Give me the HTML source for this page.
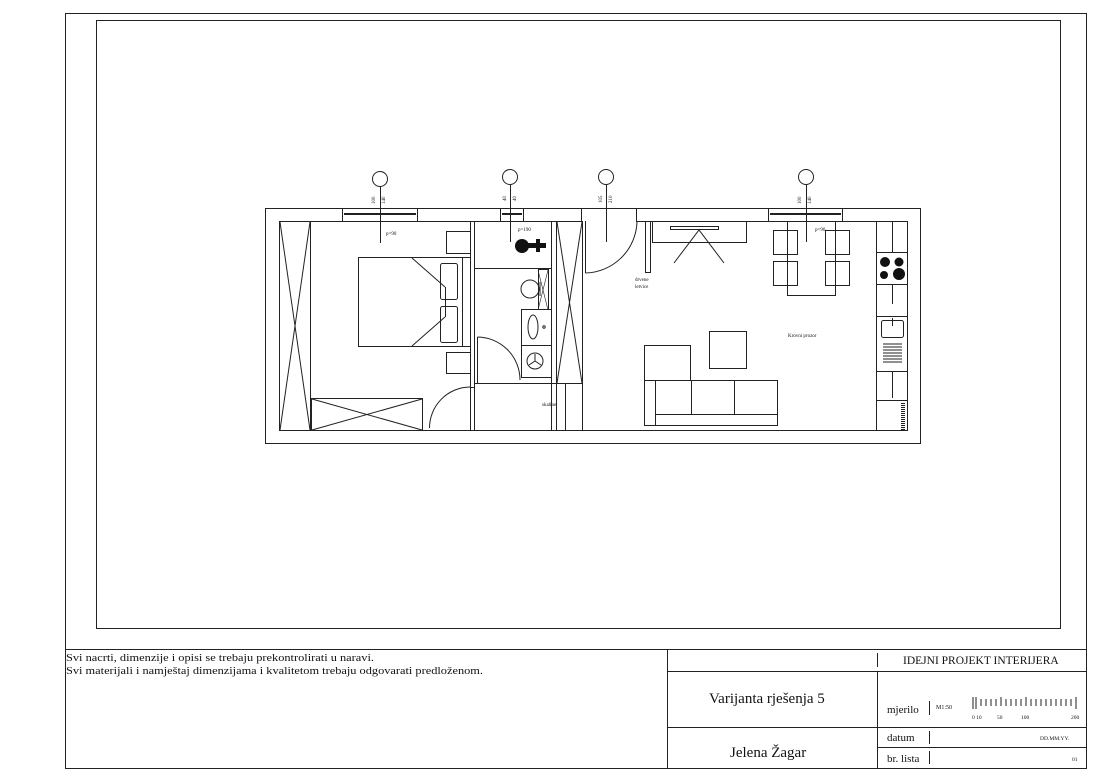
<!DOCTYPE html>
<html><head><meta charset="utf-8"><style>
html,body{margin:0;padding:0;background:#fff;}
svg{display:block;}
text{font-family:"Liberation Serif",serif;fill:#111;}
</style></head><body>
<svg width="1100" height="777" viewBox="0 0 1100 777" xmlns="http://www.w3.org/2000/svg">
<g fill="none" stroke="#222" stroke-width="1">
<rect x="65.5" y="13.5" width="1021" height="755"/>
<rect x="96.5" y="20.5" width="964" height="608"/>
<line x1="65" y1="649.5" x2="1086" y2="649.5"/>
<line x1="667.5" y1="649" x2="667.5" y2="768"/>
<line x1="667" y1="671.5" x2="1086" y2="671.5"/>
<line x1="667" y1="727.5" x2="1086" y2="727.5"/>
<line x1="877.5" y1="671" x2="877.5" y2="768"/>
<line x1="877" y1="747.5" x2="1086" y2="747.5"/>
<line x1="877.5" y1="653" x2="877.5" y2="667"/>
<line x1="929.5" y1="701" x2="929.5" y2="715"/>
<line x1="929.5" y1="731" x2="929.5" y2="744"/>
<line x1="929.5" y1="751" x2="929.5" y2="764"/>
<path d="M973 697v12M976 697v12M981 699v7M986 699v7M991 699v7M996 699v7M1001 697v9M1006 699v7M1011 699v7M1016 699v7M1021 699v7M1026 697v9M1031 699v7M1036 699v7M1041 699v7M1046 699v7M1051 699v7M1056 699v7M1061 699v7M1066 699v7M1071 699v7M1076 697v12"/>

<rect x="265.5" y="208.5" width="655" height="235"/>
<rect x="279.5" y="221.5" width="628" height="209"/>
<rect x="342.5" y="208.5" width="75" height="13"/><line x1="344" y1="214" x2="416" y2="214" stroke-width="2"/>
<rect x="500.5" y="208.5" width="23" height="13"/><line x1="502" y1="214" x2="522" y2="214" stroke-width="2"/>
<rect x="768.5" y="208.5" width="74" height="13"/><line x1="770" y1="214" x2="841" y2="214" stroke-width="2"/>
<rect x="582" y="219" width="54" height="5" stroke="none" fill="#fff"/>
<line x1="581.5" y1="208" x2="581.5" y2="222"/><line x1="636.5" y1="208" x2="636.5" y2="222"/>
<circle cx="380" cy="179" r="7.5"/><line x1="380.5" y1="186" x2="380.5" y2="243"/>
<circle cx="510" cy="177" r="7.5"/><line x1="510.5" y1="184" x2="510.5" y2="242"/>
<circle cx="606" cy="177" r="7.5"/><line x1="606.5" y1="184" x2="606.5" y2="242"/>
<circle cx="806" cy="177" r="7.5"/><line x1="806.5" y1="184" x2="806.5" y2="242"/>
<rect x="279.5" y="221.5" width="31" height="209"/>
<line x1="280" y1="222" x2="310" y2="430"/><line x1="310" y1="222" x2="280" y2="430"/>
<line x1="470.5" y1="222" x2="470.5" y2="430"/><line x1="474.5" y1="222" x2="474.5" y2="430"/>
<rect x="446.5" y="231.5" width="24" height="22"/>
<rect x="446.5" y="352.5" width="24" height="21"/>
<rect x="358.5" y="257.5" width="112" height="89"/>
<line x1="412" y1="258" x2="445" y2="287"/><line x1="412" y1="346" x2="445" y2="317"/>
<line x1="445.5" y1="287" x2="445.5" y2="317"/>
<rect x="440.5" y="263.5" width="17" height="36" rx="2"/>
<rect x="440.5" y="306.5" width="17" height="36" rx="2"/>
<line x1="462.5" y1="258" x2="462.5" y2="347"/>
<rect x="311.5" y="398.5" width="111" height="32"/>
<line x1="312" y1="399" x2="422" y2="430"/><line x1="422" y1="399" x2="312" y2="430"/>
<path d="M429.5 428 A41 41 0 0 1 470 387"/><line x1="470" y1="387.5" x2="474" y2="387.5"/>
<line x1="475" y1="268.5" x2="551" y2="268.5"/>
<line x1="475" y1="383.5" x2="583" y2="383.5"/>
<line x1="551.5" y1="222" x2="551.5" y2="430"/>
<circle cx="530" cy="289" r="9"/>
<line x1="540" y1="282" x2="540" y2="296"/>
<line x1="538" y1="270" x2="548" y2="310" stroke-width="0.6"/><line x1="548" y1="270" x2="538" y2="310" stroke-width="0.6"/>
<rect x="538.5" y="269.5" width="10" height="40"/>
<rect x="521.5" y="309.5" width="30" height="36"/>
<ellipse cx="533" cy="327" rx="5" ry="12"/><circle cx="544" cy="327" r="1.2"/>
<rect x="521.5" y="345.5" width="30" height="32"/>
<circle cx="535" cy="361" r="8"/><path d="M535 361 L535 354 M535 361 L529 365 M535 361 L541 365"/>
<path d="M477.5 337 A43 43 0 0 1 520 380 M477.5 337 V383"/>
<rect x="556.5" y="221.5" width="26" height="162"/>
<line x1="557" y1="222" x2="582" y2="383"/><line x1="582" y1="222" x2="557" y2="383"/>
<line x1="556.5" y1="383" x2="556.5" y2="430"/><line x1="565.5" y1="383" x2="565.5" y2="430"/><line x1="582.5" y1="383" x2="582.5" y2="430"/>
<path d="M585.5 273 A53 53 0 0 0 637 222"/><line x1="585.5" y1="221" x2="585.5" y2="273"/>
<rect x="645.5" y="221.5" width="5" height="51"/>
<rect x="652.5" y="221.5" width="94" height="21"/>
<rect x="670.5" y="226.5" width="48" height="3"/>
<path d="M674 263 L699 230 L724 263"/>
<rect x="787.5" y="221.5" width="48" height="74"/>
<rect x="773.5" y="230.5" width="24" height="24"/>
<rect x="825.5" y="230.5" width="24" height="24"/>
<rect x="773.5" y="261.5" width="24" height="24"/>
<rect x="825.5" y="261.5" width="24" height="24"/>
<rect x="709.5" y="331.5" width="37" height="37"/>
<rect x="644.5" y="345.5" width="46" height="35"/>
<rect x="644.5" y="380.5" width="11" height="45"/>
<rect x="655.5" y="380.5" width="122" height="34"/>
<line x1="644" y1="425.5" x2="778" y2="425.5"/><line x1="777.5" y1="414" x2="777.5" y2="426"/>
<line x1="691.5" y1="380" x2="691.5" y2="415"/><line x1="734.5" y1="380" x2="734.5" y2="415"/>
<rect x="876.5" y="221.5" width="31" height="209"/>
<path d="M876 252.5H908M876 284.5H908M876 316.5H908M876 371.5H908M876 400.5H908"/>
<path d="M892.5 222V252M892.5 284V304M892.5 318V326M892.5 371V398"/>
<rect x="881.5" y="320.5" width="22" height="17" rx="2"/>
<path d="M883 344H902M883 347H902M883 350H902M883 353H902M883 356H902M883 359H902M883 362H902"/>
<path d="M903 403V430" stroke-width="4" stroke-dasharray="1 1"/>
</g>
<g fill="#111">
<circle cx="522" cy="246" r="7"/><rect x="528" y="243" width="9" height="5"/><rect x="536" y="239" width="4" height="13"/><rect x="540" y="243" width="6" height="5"/>
<circle cx="885" cy="262" r="5"/><circle cx="899" cy="262" r="4.5"/><circle cx="884" cy="275" r="4"/><circle cx="899" cy="274" r="6"/>
</g>
<g font-size="5">
<text x="386" y="235">p=90</text>
<text x="518" y="231">p=190</text>
<text x="815" y="231">p=90</text>
<text x="788" y="337">Krovni prozor</text>
<text x="542" y="406" font-family="Liberation Sans">skaline</text>
<text x="635" y="281" font-family="Liberation Sans">drvene</text>
<text x="635" y="288" font-family="Liberation Sans">letvice</text>
<text transform="translate(375,204) rotate(-90)">100</text>
<text transform="translate(385,204) rotate(-90)">140</text>
<text transform="translate(506,201) rotate(-90)">40</text>
<text transform="translate(516,201) rotate(-90)">40</text>
<text transform="translate(602,203) rotate(-90)">105</text>
<text transform="translate(612,203) rotate(-90)">210</text>
<text transform="translate(801,204) rotate(-90)">100</text>
<text transform="translate(811,204) rotate(-90)">140</text>
</g>
<text x="66" y="661" font-size="10" textLength="308" lengthAdjust="spacingAndGlyphs">Svi nacrti, dimenzije i opisi se trebaju prekontrolirati u naravi.</text>
<text x="66" y="674" font-size="10" textLength="417" lengthAdjust="spacingAndGlyphs">Svi materijali i namještaj dimenzijama i kvalitetom trebaju odgovarati predloženom.</text>
<text x="903" y="664" font-size="11.5">IDEJNI PROJEKT INTERIJERA</text>
<text x="709" y="703" font-size="15">Varijanta rješenja 5</text>
<text x="730" y="757" font-size="15">Jelena Žagar</text>
<text x="887" y="713" font-size="11">mjerilo</text>
<text x="936" y="709" font-size="6">M1:50</text>
<text x="972" y="719" font-size="5.5">0 10</text>
<text x="997" y="719" font-size="5.5">50</text>
<text x="1021" y="719" font-size="5.5">100</text>
<text x="1071" y="719" font-size="5.5">200</text>
<text x="887" y="741" font-size="11">datum</text>
<text x="1040" y="740" font-size="5.5">DD.MM.YY.</text>
<text x="887" y="762" font-size="11">br. lista</text>
<text x="1072" y="761" font-size="5.5">01</text>
</svg>
</body></html>
